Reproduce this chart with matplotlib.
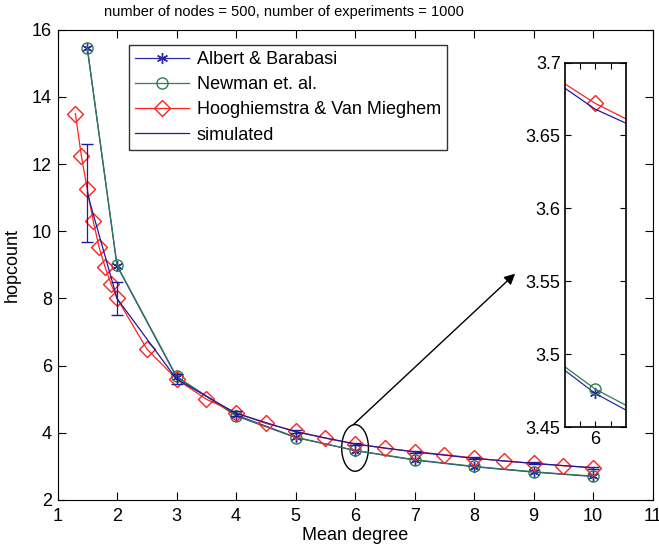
import numpy as np
import matplotlib
matplotlib.use('Agg')
import matplotlib.pyplot as plt
from matplotlib.patches import Ellipse
from matplotlib.lines import Line2D

plt.rcParams['font.family'] = ['Liberation Sans', 'DejaVu Sans']

# data
x_model = [1.5, 2, 3, 4, 5, 6, 7, 8, 9, 10]
albert = [15.45, 8.97, 5.66, 4.53, 3.87, 3.473, 3.19, 2.99, 2.83, 2.70]
newman = [15.47, 8.99, 5.68, 4.50, 3.86, 3.476, 3.20, 3.00, 2.84, 2.71]

x_hvm = [1.3, 1.4, 1.5, 1.6, 1.7, 1.8, 1.9, 2.0, 2.5, 3, 3.5, 4, 4.5, 5,
         5.5, 6, 6.5, 7, 7.5, 8, 8.5, 9, 9.5, 10]
hvm = [13.5, 12.25, 11.25, 10.3, 9.52, 8.93, 8.43, 8.0, 6.5, 5.6, 5.0, 4.6,
       4.28, 4.05, 3.84, 3.672, 3.54, 3.44, 3.35, 3.25, 3.16, 3.09, 3.02, 2.96]

x_sim = [1.5, 2, 3, 4, 5, 6, 7, 8, 9, 10]
sim = [11.14, 8.0, 5.6, 4.58, 4.03, 3.668, 3.43, 3.24, 3.09, 2.96]
sim_err = [1.45, 0.48, 0.15, 0.07, 0.05, 0.03, 0.03, 0.03, 0.03, 0.03]

c_ab = '#2a2aa8'
c_nw = '#2e7d52'
c_hvm = '#ff2020'
c_sim = '#1c1c9c'
star = (6, 2, 0)


def draw(ax, errbars=True):
    ax.plot(x_model, albert, color=c_ab, lw=0.9, marker=star, ms=8,
            mec=c_ab, label='Albert & Barabasi')
    ax.plot(x_model, newman, color=c_nw, lw=0.9, marker='o', ms=8,
            mfc='none', mec=c_nw, label='Newman et. al.')
    ax.plot(x_hvm, hvm, color=c_hvm, lw=0.9, marker='D', ms=8.5,
            mfc='none', mec=c_hvm, label='Hooghiemstra & Van Mieghem')
    if errbars:
        ax.errorbar(x_sim, sim, yerr=sim_err, color=c_sim, lw=0.9,
                    capsize=4, elinewidth=0.9)
    else:
        ax.plot(x_sim, sim, color=c_sim, lw=0.9)


fig = plt.figure(figsize=(6.59, 5.48), dpi=100)
ax = fig.add_axes([0.0873, 0.0876, 0.903, 0.858])
draw(ax)
ax.set_xlim(1, 11)
ax.set_ylim(2, 16)
ax.set_xticks(range(1, 12))
ax.set_yticks(range(2, 17, 2))
ax.tick_params(direction='in', top=True, right=True, length=6,
               labelsize=13, pad=4)
ax.tick_params(axis='x', pad=6)
ax.set_xlabel('Mean degree', fontsize=13)
ax.set_ylabel('hopcount', fontsize=13)
ax.xaxis.set_label_coords(0.5, -0.058)
ax.yaxis.set_label_coords(-0.062, 0.5)

handles, labels = ax.get_legend_handles_labels()
handles.append(Line2D([], [], color=c_sim, lw=0.9))
labels.append('simulated')
leg = ax.legend(handles, labels, loc='upper left', bbox_to_anchor=(0.12, 0.968),
                fontsize=13, frameon=True, fancybox=False, edgecolor='k',
                handlelength=3.0, handletextpad=0.4, labelspacing=0.45,
                borderpad=0.35, borderaxespad=0)
leg.get_frame().set_linewidth(1.0)

ax.add_patch(Ellipse((6, 3.55), 0.45, 1.39, fill=False, ec='k', lw=1))
ax.annotate('', xy=(8.69, 8.74), xytext=(5.97, 4.24),
            arrowprops=dict(arrowstyle='-|>', color='k', lw=1,
                            mutation_scale=16, shrinkA=0, shrinkB=0))

fig.text(0.431, 0.978, 'number of nodes = 500, number of experiments = 1000',
         ha='center', va='center', fontsize=10.5)

# zoomed inset around mean degree 6
ins = fig.add_axes([0.857, 0.2208, 0.0926, 0.665])
draw(ins, errbars=False)
ins.set_xlim(5.96, 6.04)
ins.set_ylim(3.45, 3.7)
ins.set_xticks([5.98, 6.0, 6.02])
ins.set_xticklabels(['', '6', ''])
ins.set_yticks([3.45, 3.5, 3.55, 3.6, 3.65, 3.7])
ins.set_yticklabels(['3.45', '3.5', '3.55', '3.6', '3.65', '3.7'])
ins.tick_params(direction='in', top=True, right=True, length=4,
                labelsize=13, pad=3)
for s in ins.spines.values():
    s.set_linewidth(1.2)

fig.savefig('out.png', dpi=100)
